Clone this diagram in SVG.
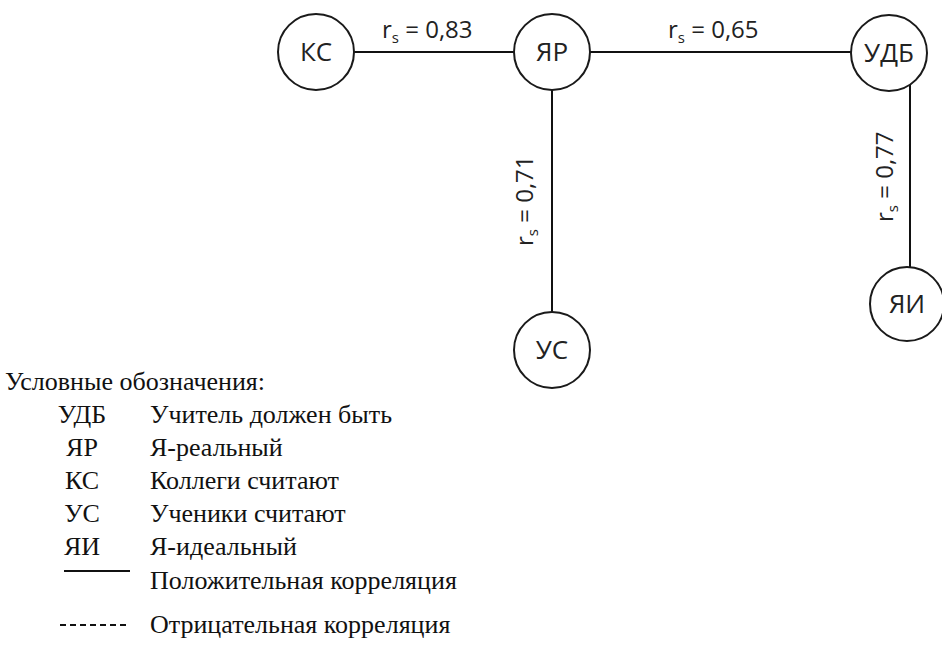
<svg xmlns="http://www.w3.org/2000/svg" width="942" height="664" viewBox="0 0 942 664">
  <style>
    .node circle { fill: #ffffff; stroke: #1a1a1a; stroke-width: 2; }
    .node text { font-family: "Open Sans", "Liberation Sans", sans-serif; font-size: 26px; fill: #222; text-anchor: middle; }
    .edge { stroke: #111; stroke-width: 2; fill: none; }
    .lbl { font-family: "Open Sans", "Liberation Sans", sans-serif; font-size: 24px; fill: #222; }
    .sub { font-size: 15px; }
    #legend text { font-family: "Liberation Serif", "Times New Roman", serif; font-size: 26px; fill: #111; }
    #legend text.abbr { text-anchor: middle; }
  </style>
  <rect width="942" height="664" fill="#ffffff"/>

  <!-- connectors -->
  <g id="connectors">
    <line class="edge" x1="354" y1="52" x2="514" y2="52"/>
    <line class="edge" x1="590" y1="52" x2="851" y2="52"/>
    <line class="edge" x1="552" y1="90" x2="552" y2="312"/>
    <line class="edge" x1="910" y1="84" x2="910" y2="267"/>
    <text class="lbl" x="382" y="38">r<tspan class="sub" dy="5">s</tspan><tspan dy="-5"> = 0,83</tspan></text>
    <text class="lbl" x="668" y="38">r<tspan class="sub" dy="5">s</tspan><tspan dy="-5"> = 0,65</tspan></text>
    <text class="lbl" transform="translate(533,246) rotate(-90)">r<tspan class="sub" dy="5">s</tspan><tspan dy="-5"> = 0,71</tspan></text>
    <text class="lbl" transform="translate(893,222) rotate(-90)">r<tspan class="sub" dy="5">s</tspan><tspan dy="-5"> = 0,77</tspan></text>
  </g>

  <!-- nodes -->
  <g id="node-KS" class="node">
    <circle cx="316" cy="52" r="38"/>
    <text x="316" y="61">КС</text>
  </g>
  <g id="node-YaR" class="node">
    <circle cx="552" cy="52" r="38"/>
    <text x="552" y="61">ЯР</text>
  </g>
  <g id="node-UDB" class="node">
    <circle cx="889" cy="53" r="38"/>
    <text x="889" y="62">УДБ</text>
  </g>
  <g id="node-US" class="node">
    <circle cx="552" cy="350" r="38"/>
    <text x="552" y="359">УС</text>
  </g>
  <g id="node-YaI" class="node">
    <circle cx="907" cy="304" r="37"/>
    <text x="907" y="313">ЯИ</text>
  </g>

  <!-- legend -->
  <g id="legend">
    <text x="5" y="390">Условные обозначения:</text>
    <text class="abbr" x="82" y="423">УДБ</text>
    <text x="150" y="423">Учитель должен быть</text>
    <text class="abbr" x="82" y="456">ЯР</text>
    <text x="150" y="456">Я-реальный</text>
    <text class="abbr" x="82" y="489">КС</text>
    <text x="150" y="489">Коллеги считают</text>
    <text class="abbr" x="82" y="522">УС</text>
    <text x="150" y="522">Ученики считают</text>
    <text class="abbr" x="82" y="555">ЯИ</text>
    <text x="150" y="555">Я-идеальный</text>
    <line x1="64" y1="571" x2="130" y2="571" stroke="#111" stroke-width="2"/>
    <text x="150" y="589">Положительная корреляция</text>
    <line x1="60" y1="625" x2="128" y2="625" stroke="#111" stroke-width="1.8" stroke-dasharray="6 4"/>
    <text x="150" y="633">Отрицательная корреляция</text>
  </g>
</svg>
